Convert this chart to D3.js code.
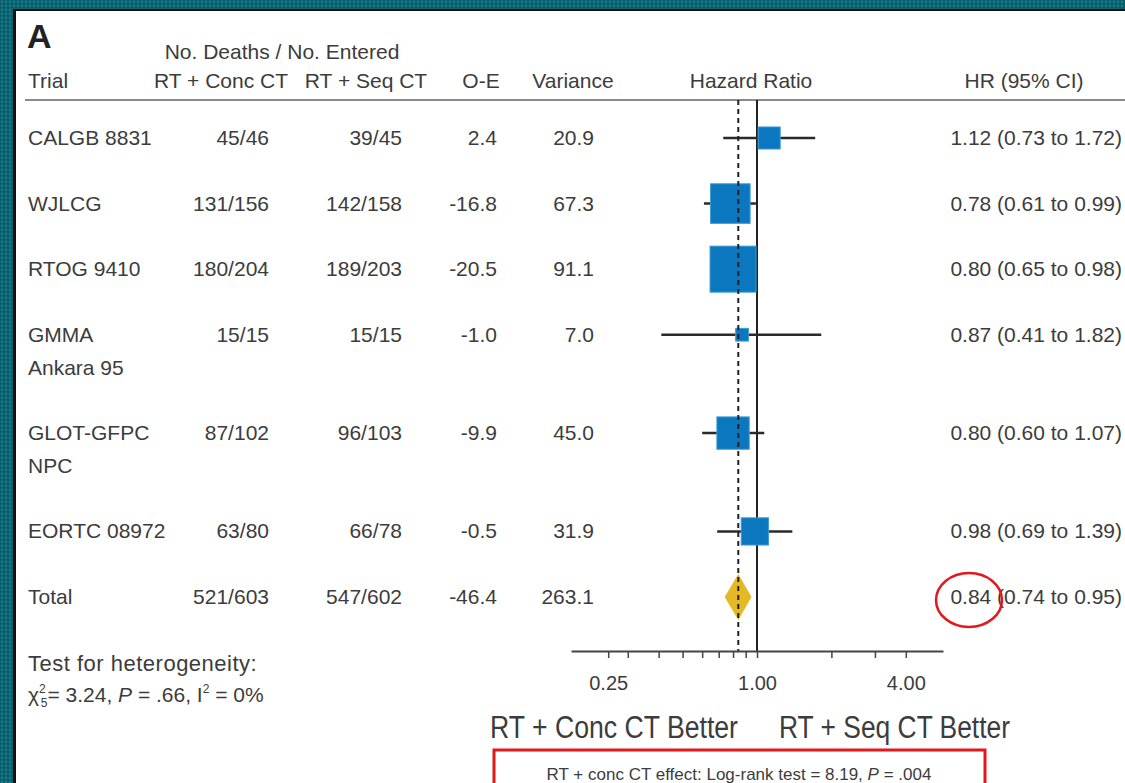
<!DOCTYPE html>
<html>
<head>
<meta charset="utf-8">
<script src="https://cdn.jsdelivr.net/npm/d3@7"></script>
<style>
  body { margin: 0; padding: 0; overflow: hidden; }
  text { font-family: "Liberation Sans", Arial, sans-serif; fill: #3c3c3c; }
</style>
</head>
<body>
<script>
// Chart data
var trials = [["CALGB 8831"], ["WJLCG"], ["RTOG 9410"], ["GMMA", "Ankara 95"], ["GLOT-GFPC", "NPC"], ["EORTC 08972"]];
var concCT = ["45/46", "131/156", "180/204", "15/15", "87/102", "63/80"];
var seqCT = ["39/45", "142/158", "189/203", "15/15", "96/103", "66/78"];
var oe = [2.4, -16.8, -20.5, -1.0, -9.9, -0.5];
var variance = [20.9, 67.3, 91.1, 7.0, 45.0, 31.9];
var hr = [1.12, 0.78, 0.80, 0.87, 0.80, 0.98];
var hrLow = [0.73, 0.61, 0.65, 0.41, 0.60, 0.69];
var hrHigh = [1.72, 0.99, 0.98, 1.82, 1.07, 1.39];

var totalRow = {label: "Total", conc: "521/603", seq: "547/602", oe: -46.4, variance: 263.1, hr: 0.84, lo: 0.74, hi: 0.95};

var majorTicks = [0.25, 1, 4];
var minorTicks = [0.3, 0.4, 0.5, 0.6, 0.7, 0.8, 0.9, 2, 3];

var width = 1125;
var height = 783;

var svg = d3.select('body')
    .append('svg')
    .attr('width', width)
    .attr('height', height);

// Teal dotted background + white panel
var defs = svg.append('defs');
var pat = defs.append('pattern')
    .attr('id', 'dots')
    .attr('width', 4)
    .attr('height', 4)
    .attr('patternUnits', 'userSpaceOnUse');
pat.append('rect').attr('width', 4).attr('height', 4).attr('fill', '#0b5b69');
pat.append('circle').attr('cx', 2).attr('cy', 2).attr('r', 1.4).attr('fill', '#147b8a');

svg.append('rect').attr('width', width).attr('height', height).attr('fill', 'url(#dots)');
svg.append('rect').attr('x', 13).attr('y', 9).attr('width', width - 13).attr('height', height - 9).attr('fill', '#111');
svg.append('rect').attr('x', 16).attr('y', 11).attr('width', width - 16).attr('height', height - 11).attr('fill', '#fff');

// Scales
var xScale = d3.scaleLog()
    .base(2)
    .domain([Math.pow(2, -2.5), Math.pow(2, 2.5)])
    .range([571, 943]);

// two-line rows take 1.5 row slots
var slots = [];
var pos = 0;
trials.forEach(function(t) {
    slots.push(pos);
    pos += t.length > 1 ? 1.5 : 1;
});
var totalSlot = pos;

var yScale = d3.scaleLinear()
    .domain([0, totalSlot])
    .range([138, 597]);

var sizeScale = d3.scaleSqrt()
    .domain([0, d3.max(variance)])
    .range([0, 46]);

var rows = trials.map(function(t, i) {
    return {label: t, conc: concCT[i], seq: seqCT[i], oe: oe[i], variance: variance[i],
            hr: hr[i], lo: hrLow[i], hi: hrHigh[i], slot: slots[i]};
});

var fontSize = 21;

// Header
svg.append('text').attr('x', 27).attr('y', 48)
    .attr('font-size', 34).attr('font-weight', 'bold').style('fill', '#222').text('A');
svg.append('text').attr('x', 282).attr('y', 59).attr('text-anchor', 'middle')
    .attr('font-size', fontSize).text('No. Deaths / No. Entered');

var headers = [
    {t: 'Trial', x: 28, a: 'start'},
    {t: 'RT + Conc CT', x: 221, a: 'middle'},
    {t: 'RT + Seq CT', x: 366, a: 'middle'},
    {t: 'O-E', x: 481, a: 'middle'},
    {t: 'Variance', x: 573, a: 'middle'},
    {t: 'Hazard Ratio', x: 751, a: 'middle'},
    {t: 'HR (95% CI)', x: 1024, a: 'middle'}
];
svg.selectAll('.hdr')
    .data(headers)
    .enter()
    .append('text')
    .attr('class', 'hdr')
    .attr('x', function(d) { return d.x; })
    .attr('y', 88)
    .attr('text-anchor', function(d) { return d.a; })
    .attr('font-size', fontSize)
    .text(function(d) { return d.t; });

svg.append('line')
    .attr('x1', 25).attr('x2', width)
    .attr('y1', 100).attr('y2', 100)
    .attr('stroke', '#8a8a8a').attr('stroke-width', 2);

// Table text columns
var allRows = rows.concat([{label: [totalRow.label], conc: totalRow.conc, seq: totalRow.seq, oe: totalRow.oe,
    variance: totalRow.variance, hr: totalRow.hr, lo: totalRow.lo, hi: totalRow.hi, slot: totalSlot, total: true}]);

var columns = [
    {x: 269, get: function(d) { return d.conc; }},
    {x: 402, get: function(d) { return d.seq; }},
    {x: 497, get: function(d) { return d.oe.toFixed(1); }},
    {x: 594, get: function(d) { return d.variance.toFixed(1); }},
    {x: 1122, get: function(d) { return d.hr.toFixed(2) + ' (' + d.lo.toFixed(2) + ' to ' + d.hi.toFixed(2) + ')'; }}
];

allRows.forEach(function(d) {
    var yc = yScale(d.slot) + 7;
    d.label.forEach(function(line, k) {
        svg.append('text').attr('x', 28).attr('y', yc + k * 33)
            .attr('font-size', fontSize).text(line);
    });
    columns.forEach(function(c) {
        svg.append('text').attr('x', c.x).attr('y', yc)
            .attr('text-anchor', 'end')
            .attr('font-size', fontSize).text(c.get(d));
    });
});

// Reference line at HR = 1
svg.append('line')
    .attr('x1', xScale(1)).attr('x2', xScale(1))
    .attr('y1', 100).attr('y2', 651)
    .attr('stroke', '#222').attr('stroke-width', 2);

// CI lines
svg.selectAll('.ci')
    .data(rows)
    .enter()
    .append('line')
    .attr('class', 'ci')
    .attr('x1', function(d) { return xScale(d.lo); })
    .attr('x2', function(d) { return xScale(d.hi); })
    .attr('y1', function(d) { return yScale(d.slot); })
    .attr('y2', function(d) { return yScale(d.slot); })
    .attr('stroke', '#2a2a2a')
    .attr('stroke-width', 2.5);

// Squares sized by variance
svg.selectAll('.box')
    .data(rows)
    .enter()
    .append('rect')
    .attr('class', 'box')
    .attr('x', function(d) { return xScale(d.hr) - sizeScale(d.variance) / 2; })
    .attr('y', function(d) { return yScale(d.slot) - sizeScale(d.variance) / 2; })
    .attr('width', function(d) { return sizeScale(d.variance); })
    .attr('height', function(d) { return sizeScale(d.variance); })
    .attr('fill', '#0a77bf')
    .attr('stroke', '#3d9ad6')
    .attr('stroke-width', 1);

// Pooled diamond
var ty = yScale(totalSlot);
svg.append('path')
    .attr('d', 'M' + xScale(totalRow.lo) + ',' + ty +
               'L' + xScale(totalRow.hr) + ',' + (ty - 23) +
               'L' + xScale(totalRow.hi) + ',' + ty +
               'L' + xScale(totalRow.hr) + ',' + (ty + 23) + 'Z')
    .attr('fill', '#e4b923');

// Pooled HR dashed line
svg.append('line')
    .attr('x1', xScale(totalRow.hr)).attr('x2', xScale(totalRow.hr))
    .attr('y1', 100).attr('y2', 651)
    .attr('stroke', '#222').attr('stroke-width', 2)
    .attr('stroke-dasharray', '5,4');

// Log axis
var xAxis = d3.axisBottom(xScale)
    .tickValues(majorTicks.concat(minorTicks))
    .tickSize(7)
    .tickSizeOuter(0)
    .tickFormat(function(d) { return majorTicks.indexOf(d) >= 0 ? d.toFixed(2) : ''; });

var axisG = svg.append('g')
    .attr('transform', 'translate(0,651)')
    .call(xAxis);
axisG.select('.domain').attr('stroke', '#444').attr('stroke-width', 2);
axisG.selectAll('.tick line').attr('stroke', '#444').attr('stroke-width', 1.5);
axisG.selectAll('.tick text')
    .attr('y', 39).attr('dy', null)
    .attr('font-size', 20)
    .style('font-family', '"Liberation Sans", Arial, sans-serif')
    .style('fill', '#3c3c3c');

// Heterogeneity note
svg.append('text').attr('x', 28).attr('y', 671).attr('font-size', 22)
    .attr('letter-spacing', 0.5).text('Test for heterogeneity:');
var chi = svg.append('text').attr('x', 28).attr('y', 702).attr('font-size', 21);
chi.append('tspan').text('\u03C7');
chi.append('tspan').attr('font-size', 12).attr('dy', -9).text('2');
chi.append('tspan').attr('font-size', 12).attr('dx', -5).attr('dy', 14).text('5');
chi.append('tspan').attr('dy', -5).text('= 3.24, ');
chi.append('tspan').attr('font-style', 'italic').text('P');
chi.append('tspan').text(' = .66, I');
chi.append('tspan').attr('font-size', 12).attr('dy', -9).text('2');
chi.append('tspan').attr('dy', 9).text(' = 0%');

// Direction labels
svg.append('text').attr('x', 490).attr('y', 738)
    .attr('font-size', 31).attr('textLength', 248).attr('lengthAdjust', 'spacingAndGlyphs')
    .text('RT + Conc CT Better');
svg.append('text').attr('x', 779).attr('y', 738)
    .attr('font-size', 31).attr('textLength', 231).attr('lengthAdjust', 'spacingAndGlyphs')
    .text('RT + Seq CT Better');

// Red annotations
svg.append('rect')
    .attr('x', 494).attr('y', 750)
    .attr('width', 491).attr('height', 50)
    .attr('fill', 'none').attr('stroke', '#e3171c').attr('stroke-width', 3);
var lr = svg.append('text').attr('x', 739).attr('y', 780).attr('text-anchor', 'middle').attr('font-size', 17);
lr.append('tspan').text('RT + conc CT effect: Log-rank test = 8.19, ');
lr.append('tspan').attr('font-style', 'italic').text('P');
lr.append('tspan').text(' = .004');

svg.append('ellipse')
    .attr('cx', 969).attr('cy', 600)
    .attr('rx', 33).attr('ry', 27)
    .attr('fill', 'none').attr('stroke', '#e3171c').attr('stroke-width', 2.5);
</script>
</body>
</html>
